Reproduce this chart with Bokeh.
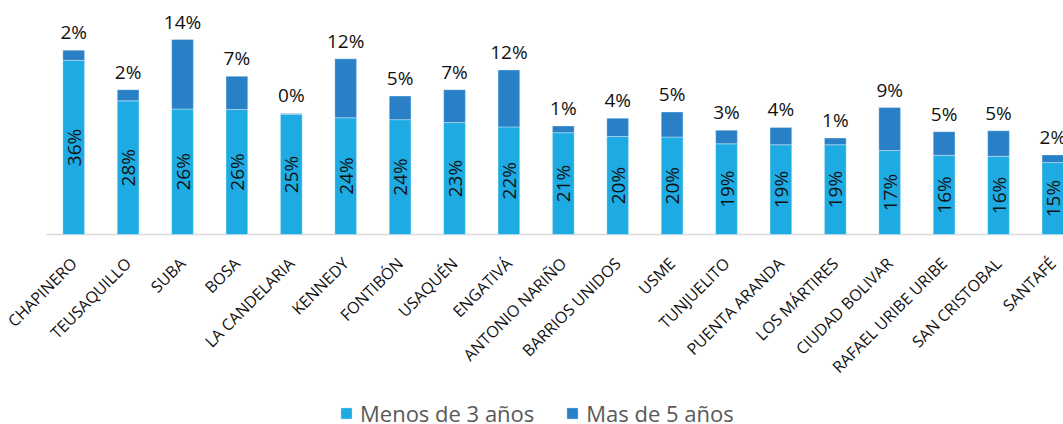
from math import pi
from bokeh.plotting import figure
from bokeh.models import ColumnDataSource, Range1d, Legend, LegendItem, FixedTicker
from bokeh.core.properties import value
from bokeh.embed import file_html
from bokeh.resources import INLINE

localidades = ["CHAPINERO", "TEUSAQUILLO", "SUBA", "BOSA", "LA CANDELARIA", "KENNEDY",
               "FONTIBÓN", "USAQUÉN", "ENGATIVÁ", "ANTONIO NARIÑO", "BARRIOS UNIDOS", "USME",
               "TUNJUELITO", "PUENTA ARANDA", "LOS MÁRTIRES", "CIUDAD BOLIVAR",
               "RAFAEL URIBE URIBE", "SAN CRISTOBAL", "SANTAFÉ"]
menos_3 = [36.1, 27.7, 26.0, 25.9, 24.9, 24.2, 23.8, 23.2, 22.3, 21.1, 20.3, 20.2,
           18.8, 18.6, 18.6, 17.4, 16.4, 16.2, 14.9]
mas_5 = [2.1, 2.3, 14.4, 6.9, 0.2, 12.2, 4.9, 6.8, 11.8, 1.4, 3.8, 5.2,
         2.8, 3.6, 1.4, 8.9, 4.9, 5.3, 1.6]
series_names = ["Menos de 3 años", "Mas de 5 años"]

C1 = "#1EABE3"
C2 = "#2980C7"
FONT = "Open Sans"

xs = list(range(len(localidades)))
totals = [a + b for a, b in zip(menos_3, mas_5)]
src = ColumnDataSource(dict(
    x=xs, m3=menos_3, m5=mas_5, tot=totals, mid=[v / 2 for v in menos_3],
    lab3=[f"{int(v + 0.5)}%" for v in menos_3],
    lab5=[f"{int(v + 0.5)}%" for v in mas_5],
))

W, H = 1063, 424
top = 8
plot_left = 46            # where the category area begins (pixels)
px_per_cat = 54.4
px_per_pct = 4.825
above_base = 226          # pixels from frame top to the baseline
below_base = H - top - above_base
x_start = -0.5 - plot_left / px_per_cat
x_end = x_start + W / px_per_cat

p = figure(width=W, height=H,
           x_range=Range1d(x_start, x_end),
           y_range=Range1d(-below_base / px_per_pct, above_base / px_per_pct),
           output_backend="svg", toolbar_location=None,
           min_border_left=0, min_border_right=0, min_border_top=top,
           min_border_bottom=0)

# baseline (category axis line) starting at the first category boundary
p.segment(x0=[-0.5], y0=[0], x1=[x_end], y1=[0], line_color="#d9d9d9", line_width=1.5)

rs = p.vbar_stack(["m3", "m5"], x="x", width=0.4, source=src, color=[C1, C2],
                  line_color="white", line_alpha=0.35, line_width=1)

p.text(x="x", y="mid", text="lab3", source=src, angle=pi / 2,
       text_align="center", text_baseline="middle",
       text_font=value(FONT), text_font_size="19px", text_color="#111111")
p.text(x="x", y="tot", text="lab5", source=src, y_offset=-18,
       text_align="center", text_baseline="alphabetic",
       text_font=value(FONT), text_font_size="19px", text_color="#111111")

p.yaxis.visible = False
p.xgrid.visible = False
p.ygrid.visible = False
p.outline_line_color = None
ax = p.xaxis[0]
ax.fixed_location = 0
ax.ticker = FixedTicker(ticks=xs)
ax.major_label_overrides = {i: n for i, n in enumerate(localidades)}
ax.major_label_orientation = pi / 4
ax.major_label_text_font = FONT
ax.major_label_text_font_size = "16px"
ax.major_label_text_color = "#111111"
ax.major_label_standoff = 20
ax.axis_line_color = None
ax.major_tick_line_color = None
ax.minor_tick_line_color = None

legend = Legend(items=[LegendItem(label=series_names[0], renderers=[rs[0]]),
                       LegendItem(label=series_names[1], renderers=[rs[1]])],
                orientation="horizontal", location=(339, -4),
                label_text_font=FONT, label_text_font_size="22px",
                label_text_color="#595959", glyph_width=14, glyph_height=14,
                spacing=31, label_standoff=7, padding=0, margin=0,
                border_line_color=None, background_fill_alpha=0)
p.add_layout(legend, "center")

open("out.html", "w").write(file_html(p, INLINE))
